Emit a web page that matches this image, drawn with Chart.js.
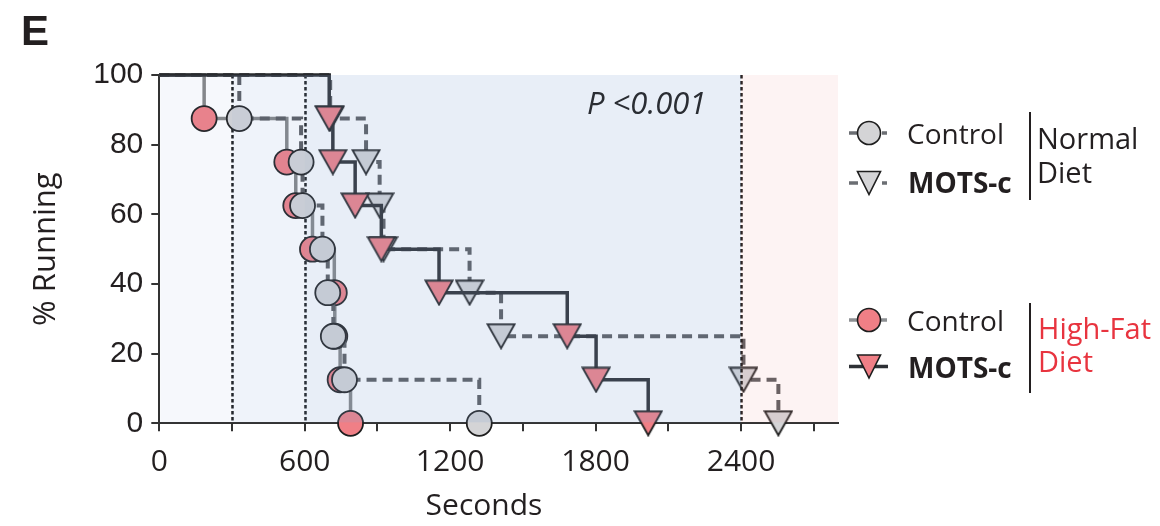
<!DOCTYPE html>
<html>
<head>
<style>
html, body { margin: 0; padding: 0; background: #fff; }
</style>
</head>
<body>

<canvas id="myChart" width="1160" height="526"></canvas>

<script src="https://cdn.jsdelivr.net/npm/chart.js"></script>
<script>
// survival levels after each drop (8 mice per group)
const levels = [87.5, 75, 62.5, 50, 37.5, 25, 12.5, 0];

// time (s) of each drop
const ndControlTimes  = [330, 585, 591, 673, 695, 718, 764, 1320];
const ndMotsTimes     = [705, 853, 909, 925, 1280, 1410, 2410, 2554];
const hfdControlTimes = [185, 526, 563, 632, 722, 724, 746, 789];
const hfdMotsTimes    = [701, 716, 808, 916, 1154, 1683, 1802, 2017];

const xTicks = [0, 300, 600, 900, 1200, 1500, 1800, 2100, 2400, 2700];
const xLabelStep = 600;
const cutoffLines = [300, 600, 2400];
const zones = [0, 300, 600, 2400, 2800];

// KM curve: start at 100 % then one point per drop
function kmPoints(times) {
    let pts = [{ x: 0, y: 100 }];
    times.forEach((t, i) => pts.push({ x: t, y: levels[i] }));
    return pts;
}

// down-pointing triangle used as marker
function triangleMarker(fill, w, h) {
    let c = document.createElement('canvas');
    c.width = w + 3; c.height = h + 3;
    let g = c.getContext('2d');
    g.beginPath();
    g.moveTo(1.5, 1.5);
    g.lineTo(w + 1.5, 1.5);
    g.lineTo(w / 2 + 1.5, h + 1.5);
    g.closePath();
    g.fillStyle = fill;
    g.fill();
    g.lineWidth = 1.8;
    g.strokeStyle = '#1e1e1e';
    g.lineJoin = 'miter';
    g.stroke();
    return c;
}

const RED = '#f07f86';
const GREY = '#d4d4d6';
const redTri = triangleMarker(RED, 27, 24);
const greyTri = triangleMarker(GREY, 27, 24);

function hideFirst(r) {
    return ctx => ctx.dataIndex === 0 ? 0 : r;
}

const datasets = [
    {
        label: 'HFD MOTS-c',
        data: kmPoints(hfdMotsTimes),
        borderColor: '#292b2e',
        borderWidth: 3.5,
        pointStyle: redTri,
        pointRadius: hideFirst(13),
        order: 0
    },
    {
        label: 'ND MOTS-c',
        data: kmPoints(ndMotsTimes),
        borderColor: '#58595c',
        borderWidth: 4,
        borderDash: [10, 6],
        pointStyle: greyTri,
        pointRadius: hideFirst(13),
        order: 1
    },
    {
        label: 'ND Control',
        data: kmPoints(ndControlTimes),
        borderColor: '#58595c',
        borderWidth: 4,
        borderDash: [10, 6],
        pointStyle: 'circle',
        pointBackgroundColor: GREY,
        pointBorderColor: '#1e1e1e',
        pointBorderWidth: 1.8,
        pointRadius: hideFirst(12.5),
        order: 2
    },
    {
        label: 'HFD Control',
        data: kmPoints(hfdControlTimes),
        borderColor: '#848585',
        borderWidth: 3.5,
        pointStyle: 'circle',
        pointBackgroundColor: RED,
        pointBorderColor: '#1e1e1e',
        pointBorderWidth: 1.8,
        pointRadius: hideFirst(12.5),
        order: 3
    }
];
datasets.forEach(d => { d.stepped = true; d.fill = false; d.clip = false; });

function drawCutoff(chart, v) {
    let c = chart.ctx, xs = chart.scales.x, ys = chart.scales.y;
    let px = Math.round(xs.getPixelForValue(v)) + 0.5;
    c.save();
    c.strokeStyle = '#151515';
    c.lineWidth = 2.5;
    c.setLineDash([3.5, 2.5]);
    c.beginPath();
    c.moveTo(px, ys.getPixelForValue(100));
    c.lineTo(px, ys.getPixelForValue(0));
    c.stroke();
    c.restore();
}

const tints = ['rgba(134,165,213,0.08)', 'rgba(134,165,213,0.13)', 'rgba(134,165,213,0.19)', 'rgba(240,160,155,0.12)'];

const decor = {
    id: 'decor',
    beforeDatasetsDraw(chart) {
        cutoffLines.slice(0, -1).forEach(v => drawCutoff(chart, v));
    },
    afterDatasetsDraw(chart) {
        let c = chart.ctx, xs = chart.scales.x, a = chart.chartArea;
        drawCutoff(chart, cutoffLines[cutoffLines.length - 1]);
        c.save();
        for (let i = 0; i < zones.length - 1; i++) {
            let x1 = Math.max(xs.getPixelForValue(zones[i]), a.left + 1);
            let x2 = xs.getPixelForValue(zones[i + 1]);
            c.fillStyle = tints[i];
            c.fillRect(x1, a.top, x2 - x1, a.bottom - a.top - 1);
        }
        c.restore();

        c.save();
        c.fillStyle = '#2a2d33';
        c.font = 'italic 31px "Open Sans"';
        c.fillText('P <0.001', 587, 114);
        c.restore();
    },
    afterDraw(chart) {
        let c = chart.ctx;
        c.save();
        // panel letter
        c.fillStyle = '#231f20';
        c.font = 'bold 42px "Liberation Sans"';
        c.fillText('E', 21, 45);

        // x title (sits a bit left of the plot centre)
        c.font = '30px "Open Sans"';
        c.textAlign = 'center';
        c.fillText('Seconds', 484, 515);
        c.textAlign = 'left';

        // legend
        function seg(color, x1, x2, y) {
            c.strokeStyle = color; c.lineWidth = 3.5; c.setLineDash([]);
            c.beginPath(); c.moveTo(x1, y); c.lineTo(x2, y); c.stroke();
        }
        function circ(fill, x, y) {
            c.beginPath(); c.arc(x, y, 11.5, 0, Math.PI * 2);
            c.fillStyle = fill; c.fill();
            c.lineWidth = 1.6; c.strokeStyle = '#1e1e1e'; c.stroke();
        }
        function tri(fill, x, y) {
            c.beginPath();
            c.moveTo(x - 11.5, y - 11.5); c.lineTo(x + 11.5, y - 11.5); c.lineTo(x, y + 11.5);
            c.closePath();
            c.fillStyle = fill; c.fill();
            c.lineWidth = 1.6; c.strokeStyle = '#1e1e1e'; c.stroke();
        }
        function text(s, x, y, font, color) {
            c.font = font; c.fillStyle = color || '#231f20'; c.fillText(s, x, y);
        }

        seg('#6b6e73', 849, 858, 133); seg('#6b6e73', 882, 887, 133); circ(GREY, 869, 133);
        seg('#6b6e73', 849, 858, 183); seg('#6b6e73', 882, 887, 183); tri(GREY, 869, 183);
        seg('#8e9194', 849, 858, 320); seg('#8e9194', 878, 887, 320); circ(RED, 869, 320);
        seg('#2d3035', 849, 888, 366.5); tri(RED, 869, 366.5);

        text('Control', 907, 144, '28px "Open Sans"');
        text('MOTS-c', 908, 193, 'bold 28px "Open Sans"');
        text('Control', 907, 331, '28px "Open Sans"');
        text('MOTS-c', 908, 378, 'bold 28px "Open Sans"');

        text('Normal', 1037, 149, '29px "Open Sans"');
        text('Diet', 1037, 183, '29px "Open Sans"');
        text('High-Fat', 1038, 339, '29px "Open Sans"', '#e8343f');
        text('Diet', 1038, 372, '29px "Open Sans"', '#e8343f');

        c.strokeStyle = '#231f20'; c.lineWidth = 2;
        c.beginPath();
        c.moveTo(1030, 112); c.lineTo(1030, 200);
        c.moveTo(1030, 303); c.lineTo(1030, 393);
        c.stroke();
        c.restore();
    }
};

let ctx = document.getElementById('myChart').getContext('2d');
let chart = new Chart(ctx, {
    type: 'line',
    data: { datasets: datasets },
    options: {
        responsive: false,
        animation: false,
        events: [],
        layout: { padding: { top: 75, right: 322, left: 0, bottom: 0 } },
        plugins: { legend: { display: false }, tooltip: { enabled: false } },
        scales: {
            x: {
                type: 'linear',
                min: 0,
                max: 2800,
                afterBuildTicks: s => { s.ticks = xTicks.map(v => ({ value: v })); },
                afterFit: s => { s.height = 102.7; },
                ticks: {
                    autoSkip: false,
                    maxRotation: 0,
                    padding: 13,
                    color: '#231f20',
                    font: { family: 'Open Sans', size: 30 },
                    callback: v => (v % xLabelStep === 0 ? String(v) : '')
                },
                grid: { drawOnChartArea: false, tickLength: 8, color: '#333', lineWidth: 2 },
                border: { color: '#333', width: 2 }
            },
            y: {
                min: 0,
                max: 100,
                afterFit: s => { s.width = 159.3; },
                ticks: {
                    stepSize: 20,
                    autoSkip: false,
                    padding: 8,
                    color: '#231f20',
                    font: { family: 'Liberation Sans', size: 30 }
                },
                grid: { drawOnChartArea: false, tickLength: 8, color: '#333', lineWidth: 2 },
                border: { color: '#333', width: 2 },
                title: {
                    display: true,
                    text: '% Running',
                    color: '#231f20',
                    font: { family: 'Open Sans', size: 31 },
                    padding: { top: 28, bottom: 0 }
                }
            }
        }
    },
    plugins: [decor]
});
</script>

</body>
</html>
